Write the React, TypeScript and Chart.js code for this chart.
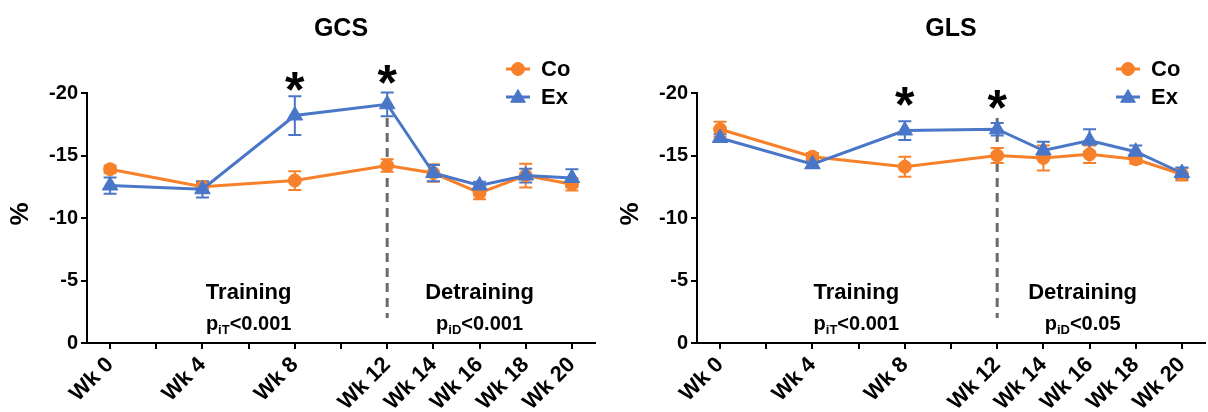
import React, { useEffect, useRef } from 'react';
import { Chart, registerables } from 'chart.js';

Chart.register(...registerables);

// ---------- data ----------
const WEEK_LABELS = ['Wk 0', 'Wk 4', 'Wk 8', 'Wk 12', 'Wk 14', 'Wk 16', 'Wk 18', 'Wk 20'];
const X_POS = [0, 2, 4, 6, 7, 8, 9, 10];
const X_TICKS = [0, 1, 2, 3, 4, 5, 6, 7, 8, 9, 10];
const Y_TICKS = [0, -5, -10, -15, -20];

const GCS_CO = [-13.9, -12.5, -13.0, -14.2, -13.6, -12.0, -13.4, -12.7];
const GCS_CO_ERR = [0.3, 0.3, 0.75, 0.5, 0.7, 0.5, 0.95, 0.5];
const GCS_EX = [-12.6, -12.3, -18.2, -19.1, -13.6, -12.6, -13.4, -13.2];
const GCS_EX_ERR = [0.65, 0.65, 1.55, 0.95, 0.65, 0.3, 0.55, 0.7];

const GLS_CO = [-17.1, -14.9, -14.1, -15.0, -14.8, -15.1, -14.7, -13.5];
const GLS_CO_ERR = [0.6, 0.3, 0.8, 0.6, 1.0, 0.7, 0.35, 0.5];
const GLS_EX = [-16.4, -14.3, -17.0, -17.1, -15.4, -16.2, -15.3, -13.6];
const GLS_EX_ERR = [0.3, 0.3, 0.75, 0.5, 0.7, 0.9, 0.5, 0.45];

const SIG_INDEX = [2, 3]; // Wk 8, Wk 12
const GCS_STAR_Y = [-21.2, -21.7];
const GLS_STAR_Y = [-20.0, -19.7];

const PHASE_NAMES = ['Training', 'Detraining'];
const P_SUBS = ['iT', 'iD'];
const GCS_P = ['<0.001', '<0.001'];
const GLS_P = ['<0.001', '<0.05'];
const GCS_PHASE_X = [3.0, 8.0];
const GLS_PHASE_X = [2.95, 7.85];
const PHASE_Y = -4.0;
const P_Y = -1.6;
const DIVIDER_X = 6;
const DIVIDER_RANGE = [-18, -2];

const ORANGE = '#F7812A';
const BLUE = '#4A76C8';
const FONT = '"Liberation Sans", Arial, Helvetica, sans-serif';

type PanelProps = {
  title: string;
  co: number[]; coErr: number[]; ex: number[]; exErr: number[];
  starY: number[]; phaseX: number[]; pTexts: string[];
  width: number; yAxisWidth: number; padRight: number; left: number;
};

function drawMarker(ctx: CanvasRenderingContext2D, style: string, x: number, y: number, r: number, color: string) {
  ctx.save();
  ctx.fillStyle = color;
  ctx.strokeStyle = color;
  ctx.lineWidth = 1;
  ctx.beginPath();
  if (style === 'circle') {
    ctx.arc(x, y, r, 0, Math.PI * 2);
  } else {
    ctx.moveTo(x, y - r);
    ctx.lineTo(x + 0.866 * r, y + 0.5 * r);
    ctx.lineTo(x - 0.866 * r, y + 0.5 * r);
    ctx.closePath();
  }
  ctx.fill();
  ctx.stroke();
  ctx.restore();
}

function Panel(props: PanelProps) {
  const ref = useRef<HTMLCanvasElement | null>(null);
  useEffect(() => {
    const canvas = ref.current!;
    const p = props;
    const series = [
      { label: 'Co', vals: p.co, err: p.coErr, color: ORANGE, style: 'circle', r: 6.5 },
      { label: 'Ex', vals: p.ex, err: p.exErr, color: BLUE, style: 'triangle', r: 9 },
    ];

    const overlay = {
      id: 'overlay',
      beforeDatasetsDraw(chart: any) {
        const ctx = chart.ctx as CanvasRenderingContext2D;
        const xs = chart.scales.x, ys = chart.scales.y;
        // dashed divider
        ctx.save();
        ctx.strokeStyle = '#6b6b6b';
        ctx.lineWidth = 3;
        ctx.setLineDash([9, 6]);
        ctx.beginPath();
        const dx = xs.getPixelForValue(DIVIDER_X);
        ctx.moveTo(dx, ys.getPixelForValue(DIVIDER_RANGE[0]));
        ctx.lineTo(dx, ys.getPixelForValue(DIVIDER_RANGE[1]));
        ctx.stroke();
        ctx.restore();
        // error bars
        series.forEach((s) => {
          ctx.save();
          ctx.strokeStyle = s.color;
          ctx.lineWidth = 2;
          s.vals.forEach((v, i) => {
            const x = xs.getPixelForValue(X_POS[i]);
            const y1 = ys.getPixelForValue(v - s.err[i]);
            const y2 = ys.getPixelForValue(v + s.err[i]);
            ctx.beginPath();
            ctx.moveTo(x, y1); ctx.lineTo(x, y2);
            ctx.moveTo(x - 6.5, y1); ctx.lineTo(x + 6.5, y1);
            ctx.moveTo(x - 6.5, y2); ctx.lineTo(x + 6.5, y2);
            ctx.stroke();
          });
          ctx.restore();
        });
      },
      afterDraw(chart: any) {
        const ctx = chart.ctx as CanvasRenderingContext2D;
        const xs = chart.scales.x, ys = chart.scales.y;
        const area = chart.chartArea;
        ctx.save();
        ctx.fillStyle = '#000';
        // title
        ctx.font = `bold 25px ${FONT}`;
        ctx.textAlign = 'center';
        ctx.textBaseline = 'middle';
        ctx.fillText(p.title, (area.left + area.right) / 2, 29);
        // y title
        ctx.save();
        ctx.translate(area.left - 66, 214);
        ctx.rotate(-Math.PI / 2);
        ctx.font = `bold 26px ${FONT}`;
        ctx.fillText('%', 0, 0);
        ctx.restore();
        // asterisks
        ctx.font = `bold 50px ${FONT}`;
        ctx.textBaseline = 'alphabetic';
        SIG_INDEX.forEach((idx, k) => {
          const x = xs.getPixelForValue(X_POS[idx]);
          const y = ys.getPixelForValue(p.starY[k]);
          ctx.fillText('*', x, y + 0.57 * 50);
        });
        // phase labels
        PHASE_NAMES.forEach((name, k) => {
          const cx = xs.getPixelForValue(p.phaseX[k]);
          ctx.font = `bold 22px ${FONT}`;
          ctx.textAlign = 'center';
          ctx.textBaseline = 'middle';
          ctx.fillText(name, cx, ys.getPixelForValue(PHASE_Y));
          // p value with subscript
          const mainFont = `bold 20px ${FONT}`;
          const subFont = `bold 13px ${FONT}`;
          ctx.font = mainFont;
          const wp = ctx.measureText('p').width;
          const wr = ctx.measureText(p.pTexts[k]).width;
          ctx.font = subFont;
          const ws = ctx.measureText(P_SUBS[k]).width;
          const total = wp + ws + wr;
          let x0 = cx - total / 2;
          const yb = ys.getPixelForValue(P_Y) + 7;
          ctx.textAlign = 'left';
          ctx.textBaseline = 'alphabetic';
          ctx.font = mainFont;
          ctx.fillText('p', x0, yb);
          x0 += wp;
          ctx.font = subFont;
          ctx.fillText(P_SUBS[k], x0, yb + 4);
          x0 += ws;
          ctx.font = mainFont;
          ctx.fillText(p.pTexts[k], x0, yb);
        });
        // legend
        series.forEach((s, k) => {
          const mx = area.left + 431;
          const my = 69 + k * 28;
          ctx.save();
          ctx.strokeStyle = s.color;
          ctx.lineWidth = 3;
          ctx.beginPath();
          ctx.moveTo(mx - 12, my); ctx.lineTo(mx + 12, my);
          ctx.stroke();
          ctx.restore();
          drawMarker(ctx, s.style, mx, my + (s.style === 'triangle' ? 1 : 0), s.style === 'triangle' ? 8.5 : 6.5, s.color);
          ctx.fillStyle = '#000';
          ctx.font = `bold 22px ${FONT}`;
          ctx.textAlign = 'left';
          ctx.textBaseline = 'middle';
          ctx.fillText(s.label, mx + 23, my + 1);
        });
        ctx.restore();
      },
    };

    const yTickFont = { family: FONT, size: 20, weight: 'bold' as const };
    const xTickFont = { family: FONT, size: 22, weight: 'bold' as const };
    const chart = new Chart(canvas, {
      type: 'line',
      data: {
        datasets: series.map((s, k) => ({
          label: s.label,
          data: X_POS.map((x, i) => ({ x, y: s.vals[i] })),
          borderColor: s.color,
          backgroundColor: s.color,
          pointBackgroundColor: s.color,
          pointBorderColor: s.color,
          pointStyle: s.style as any,
          pointRadius: s.r,
          pointBorderWidth: 1,
          borderWidth: 3,
          tension: 0,
          clip: false as any,
          order: k === 0 ? 1 : 0,
        })),
      },
      options: {
        animation: false,
        responsive: false,
        devicePixelRatio: 1,
        layout: { padding: { top: 93, right: p.padRight, bottom: 0, left: 0 } },
        plugins: { legend: { display: false }, tooltip: { enabled: false }, title: { display: false } },
        scales: {
          x: {
            type: 'linear',
            min: -0.5,
            max: 10.5,
            afterBuildTicks: (s: any) => { s.ticks = X_TICKS.map((v) => ({ value: v })); },
            afterFit: (s: any) => { s.height = 69; },
            ticks: {
              autoSkip: false,
              maxRotation: 45,
              minRotation: 45,
              padding: 3,
              color: '#000',
              font: xTickFont,
              callback: (v: any) => {
                const i = X_POS.indexOf(Number(v));
                return i >= 0 ? WEEK_LABELS[i] : '';
              },
            },
            grid: { drawOnChartArea: false, drawTicks: true, tickLength: 6, color: '#000', lineWidth: 2 },
            border: { display: true, color: '#000', width: 2 },
          },
          y: {
            type: 'linear',
            min: -20,
            max: 0,
            reverse: true,
            afterBuildTicks: (s: any) => { s.ticks = Y_TICKS.map((v) => ({ value: v })); },
            afterFit: (s: any) => { s.width = p.yAxisWidth; },
            ticks: { color: '#000', font: yTickFont, padding: 3, callback: (v: any) => String(v) },
            grid: { drawOnChartArea: false, drawTicks: true, tickLength: 6, color: '#000', lineWidth: 2 },
            border: { display: true, color: '#000', width: 2 },
          },
        },
      },
      plugins: [overlay],
    });
    return () => chart.destroy();
  }, []);
  return (
    <canvas
      ref={ref}
      width={props.width}
      height={412}
      style={{ position: 'absolute', left: props.left, top: 0, width: props.width, height: 412 }}
    />
  );
}

export default function App() {
  return (
    <div style={{ position: 'fixed', left: 0, top: 0, width: 1208, height: 412, overflow: 'hidden', background: '#fff' }}>
      <Panel title="GCS" co={GCS_CO} coErr={GCS_CO_ERR} ex={GCS_EX} exErr={GCS_EX_ERR}
        starY={GCS_STAR_Y} phaseX={GCS_PHASE_X} pTexts={GCS_P}
        width={605} yAxisWidth={87} padRight={4} left={0} />
      <Panel title="GLS" co={GLS_CO} coErr={GLS_CO_ERR} ex={GLS_EX} exErr={GLS_EX_ERR}
        starY={GLS_STAR_Y} phaseX={GLS_PHASE_X} pTexts={GLS_P}
        width={610} yAxisWidth={92} padRight={1.5} left={605} />
    </div>
  );
}
